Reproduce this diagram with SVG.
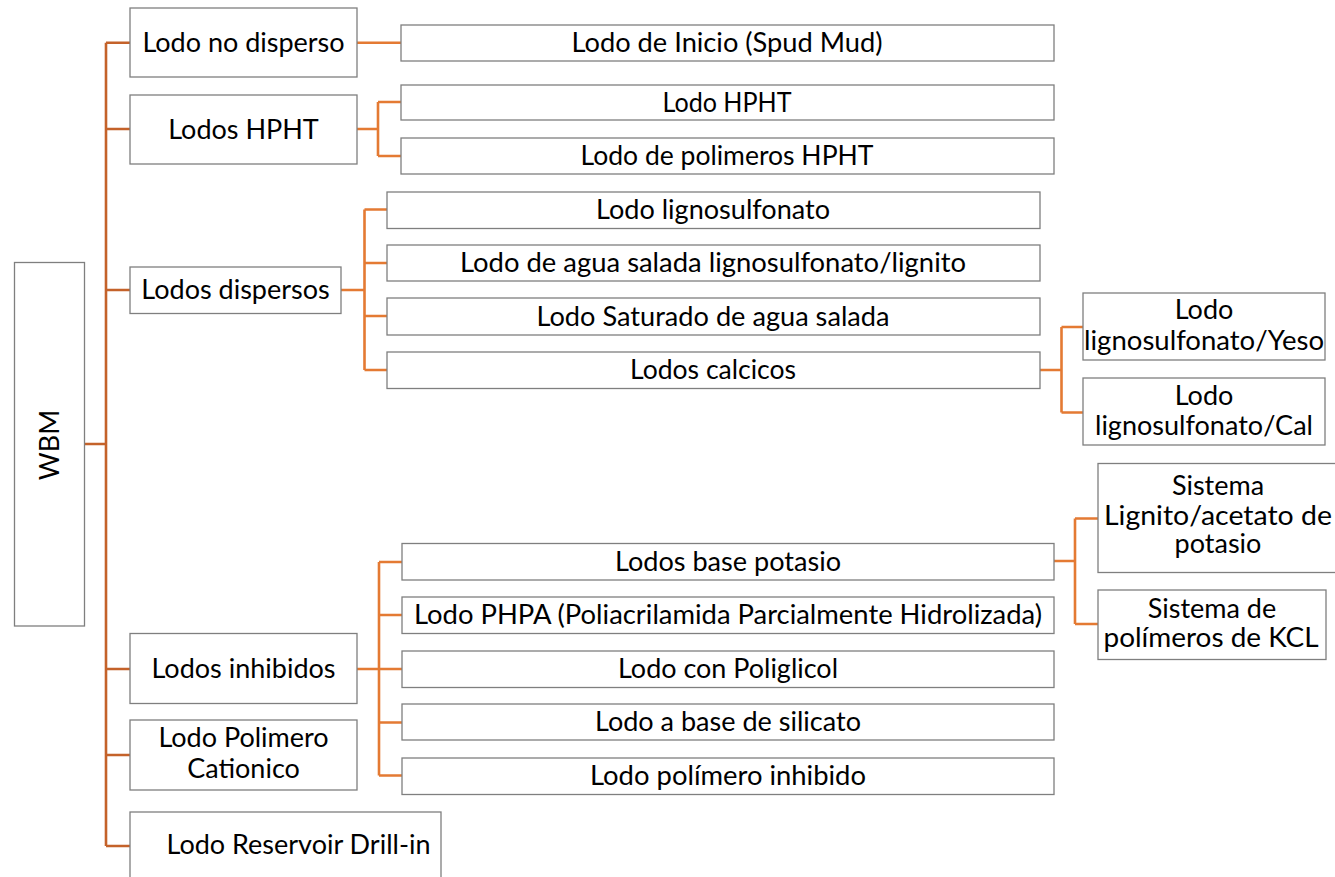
<svg xmlns="http://www.w3.org/2000/svg" width="1335" height="877" viewBox="0 0 1335 877">
<style>
.box{fill:#fff;stroke:#7f7f7f;stroke-width:1.3}
.t{font-family:Lato,"Open Sans","Liberation Sans",sans-serif;font-size:27px;fill:#000;text-anchor:middle}
.main{fill:none;stroke:#c4622a;stroke-width:2.6}
.sub{fill:none;stroke:#e47a33;stroke-width:2.6}
</style>
<rect width="1335" height="877" fill="#fff"/>
<g id="connectors">
<path class="main" d="M84,444H106M106,42.7V846M106,42.7H130M106,129H130M106,290H130M106,669H130M106,755H130M106,846H130"/>
<path class="sub" d="M357,42.7H401"/>
<path class="sub" d="M357,129H378M378,102V156M378,102H401M378,156H401"/>
<path class="sub" d="M341,290H364.5M364.5,209.5V370M364.5,209.5H387M364.5,263H387M364.5,316H387M364.5,370H387"/>
<path class="sub" d="M1040,370H1061.5M1061.5,327V412.5M1061.5,327H1083M1061.5,412.5H1083"/>
<path class="sub" d="M357,669H379M379,562V775.5M379,562H402M379,615H402M379,669H402M379,722.5H402M379,775.5H402"/>
<path class="sub" d="M1054,561H1075M1075,518.5V624M1075,518.5H1098M1075,624H1098"/>
</g>
<g id="n-wbm"><rect class="box" x="14.5" y="262.5" width="70" height="363.5"/><text class="t" transform="translate(58.5,445) rotate(-90)">WBM</text></g>
<g id="n-nodisperso"><rect class="box" x="130" y="8" width="227" height="69"/><text class="t" x="243.5" y="52">Lodo no disperso</text></g>
<g id="n-hpht"><rect class="box" x="130" y="95" width="227" height="69"/><text class="t" x="243.5" y="138.5">Lodos HPHT</text></g>
<g id="n-dispersos"><rect class="box" x="130" y="267" width="211" height="46.5"/><text class="t" x="235.5" y="299">Lodos dispersos</text></g>
<g id="n-inhibidos"><rect class="box" x="130" y="633.5" width="227" height="70"/><text class="t" x="243.5" y="678">Lodos inhibidos</text></g>
<g id="n-cationico"><rect class="box" x="130" y="720" width="227" height="70"/><text class="t" x="243.5" y="747">Lodo Polimero</text><text class="t" x="243.5" y="778">Cationico</text></g>
<g id="n-reservoir"><rect class="box" x="130" y="812" width="311" height="70"/><text class="t" x="298.5" y="854">Lodo Reservoir Drill-in</text></g>
<g id="n-spud"><rect class="box" x="401" y="25" width="653" height="36"/><text class="t" x="727" y="52" textLength="311" lengthAdjust="spacingAndGlyphs">Lodo de Inicio (Spud Mud)</text></g>
<g id="n-lodohpht"><rect class="box" x="401" y="85" width="653" height="35"/><text class="t" x="727" y="111.5" textLength="129" lengthAdjust="spacingAndGlyphs">Lodo HPHT</text></g>
<g id="n-polhpht"><rect class="box" x="401" y="138" width="653" height="36"/><text class="t" x="727" y="165" textLength="293" lengthAdjust="spacingAndGlyphs">Lodo de polimeros HPHT</text></g>
<g id="n-ligno"><rect class="box" x="387" y="192" width="653" height="36.5"/><text class="t" x="713" y="219" textLength="234" lengthAdjust="spacingAndGlyphs">Lodo lignosulfonato</text></g>
<g id="n-salada"><rect class="box" x="387" y="245" width="653" height="36"/><text class="t" x="713" y="272" textLength="506" lengthAdjust="spacingAndGlyphs">Lodo de agua salada lignosulfonato/lignito</text></g>
<g id="n-saturado"><rect class="box" x="387" y="298" width="653" height="37"/><text class="t" x="713" y="325.5" textLength="353" lengthAdjust="spacingAndGlyphs">Lodo Saturado de agua salada</text></g>
<g id="n-calcicos"><rect class="box" x="387" y="352" width="653" height="36.5"/><text class="t" x="713" y="379" textLength="166" lengthAdjust="spacingAndGlyphs">Lodos calcicos</text></g>
<g id="n-yeso"><rect class="box" x="1083" y="293" width="242" height="67"/><text class="t" x="1204" y="319">Lodo</text><text class="t" x="1204" y="350" textLength="240" lengthAdjust="spacingAndGlyphs">lignosulfonato/Yeso</text></g>
<g id="n-cal"><rect class="box" x="1083" y="378" width="242" height="67"/><text class="t" x="1204" y="404.5">Lodo</text><text class="t" x="1204" y="435" textLength="218" lengthAdjust="spacingAndGlyphs">lignosulfonato/Cal</text></g>
<g id="n-potasio"><rect class="box" x="402" y="543.5" width="652" height="36.5"/><text class="t" x="728" y="570.5" textLength="226" lengthAdjust="spacingAndGlyphs">Lodos base potasio</text></g>
<g id="n-phpa"><rect class="box" x="402" y="597" width="652" height="36.5"/><text class="t" x="728" y="624" textLength="628" lengthAdjust="spacingAndGlyphs">Lodo PHPA (Poliacrilamida Parcialmente Hidrolizada)</text></g>
<g id="n-poliglicol"><rect class="box" x="402" y="651" width="652" height="36.5"/><text class="t" x="728" y="678" textLength="220" lengthAdjust="spacingAndGlyphs">Lodo con Poliglicol</text></g>
<g id="n-silicato"><rect class="box" x="402" y="704" width="652" height="36"/><text class="t" x="728" y="731" textLength="266" lengthAdjust="spacingAndGlyphs">Lodo a base de silicato</text></g>
<g id="n-polinhib"><rect class="box" x="402" y="758" width="652" height="36.5"/><text class="t" x="728" y="785" textLength="276" lengthAdjust="spacingAndGlyphs">Lodo polímero inhibido</text></g>
<g id="n-lignito"><rect class="box" x="1098" y="463.5" width="245" height="109"/><text class="t" x="1218" y="495">Sistema</text><text class="t" x="1218" y="525" textLength="228" lengthAdjust="spacingAndGlyphs">Lignito/acetato de</text><text class="t" x="1218" y="553">potasio</text></g>
<g id="n-kcl"><rect class="box" x="1098" y="590" width="228" height="69.5"/><text class="t" x="1212" y="618">Sistema de</text><text class="t" x="1211" y="647" textLength="215" lengthAdjust="spacingAndGlyphs">polímeros de KCL</text></g>
</svg>
